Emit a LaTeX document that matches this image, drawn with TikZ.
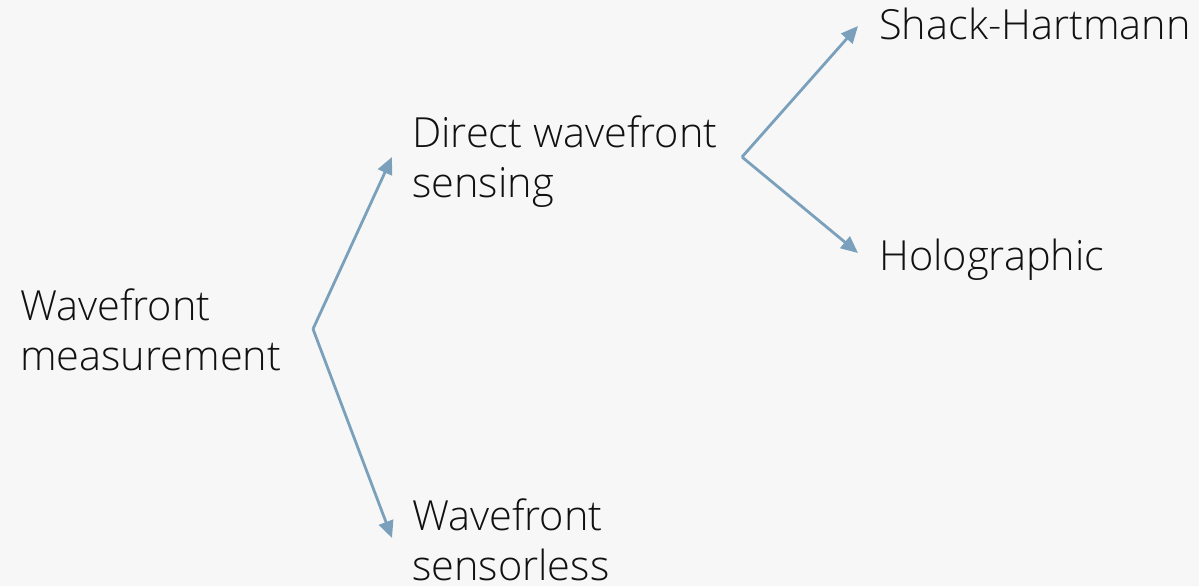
\documentclass[tikz,border=0pt]{standalone}
\usepackage{fontspec}
\setmainfont{Open Sans}[UprightFont=* Light]
\usetikzlibrary{arrows.meta}
\definecolor{bg}{HTML}{F7F7F7}
\definecolor{branch}{HTML}{7AA0BC}
\definecolor{ink}{HTML}{111111}
\tikzset{
  label/.style={anchor=base west, inner sep=0pt, align=left, text=ink,
    font=\fontsize{41.5}{50}\selectfont},
  link/.style={draw=branch, line width=2.8pt, line join=miter,
    -{Triangle[length=17pt, width=15pt]}}
}
\begin{document}
\begin{tikzpicture}[x=1pt, y=-1pt]
  \fill[bg] (0,0) rectangle (1199,586);
  \useasboundingbox (0,0) rectangle (1199,586);

  % base anchors sit on the last line of each label
  \node[label] (root) at (20,370) {Wavefront\\measurement};
  \node[label] (direct) at (412,197) {Direct wavefront\\sensing};
  \node[label] (less) at (412,580) {Wavefront\\sensorless};
  \node[label] (shack) at (879,40) {Shack-Hartmann};
  \node[label] (holo) at (879,270) {Holographic};

  \coordinate (fork1) at (313,329);
  \coordinate (fork2) at (742,157);
  \coordinate (t1) at (392,157);
  \coordinate (t2) at (392,538);
  \coordinate (t3) at (858,26);
  \coordinate (t4) at (858,253);

  \draw[link] (fork1) -- (t1);
  \draw[link] (fork1) -- (t2);
  \draw[link] (fork2) -- (t3);
  \draw[link] (fork2) -- (t4);
\end{tikzpicture}
\end{document}
